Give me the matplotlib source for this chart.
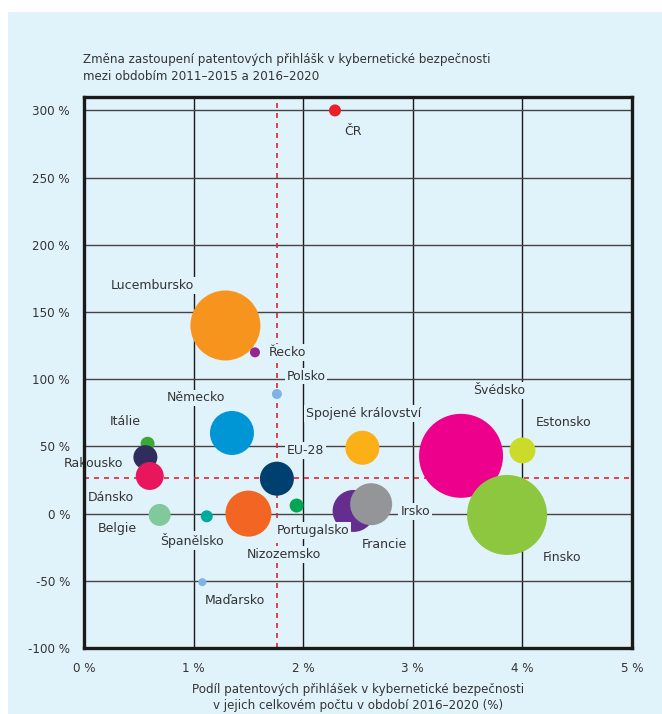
import matplotlib
matplotlib.use("Agg")
import matplotlib.pyplot as plt
from matplotlib.patches import Rectangle

# ---- data ----
countries = ["Lucembursko", "Řecko", "Polsko", "Německo", "Itálie", "Rakousko", "Dánsko",
             "Spojené království", "Švédsko", "Estonsko", "Finsko", "Belgie", "Španělsko",
             "Nizozemsko", "EU-28", "Portugalsko", "Francie", "Irsko", "Maďarsko", "ČR"]
share = [1.29, 1.56, 1.76, 1.35, 0.58, 0.56, 0.60,
         2.54, 3.44, 4.00, 3.86, 0.69, 1.12,
         1.50, 1.76, 1.94, 2.46, 2.62, 1.08, 2.29]
change = [140, 120, 89, 60, 52, 42, 28,
          49, 43, 47, -1, -1, -2,
          0, 26, 6, 2, 7, -51, 300]
bubble = [1225, 25, 25, 484, 49, 144, 196,
          289, 1764, 169, 1600, 121, 36,
          529, 289, 49, 441, 441, 16, 36]
colors = ["#F7941D", "#93278F", "#7FB2E5", "#0096D6", "#3AAA35", "#2E2D5E", "#E8175D",
          "#FBB017", "#EC008C", "#CBDB2A", "#8DC63F", "#80C99A", "#00A99D",
          "#F26522", "#004070", "#00A651", "#662D91", "#939598", "#7FB2E5", "#E8202A"]
eu_share = 1.76
eu_change = 26.4

xticks = [0, 1, 2, 3, 4, 5]
xtick_labels = ["0 %", "1 %", "2 %", "3 %", "4 %", "5 %"]
yticks = [-100, -50, 0, 50, 100, 150, 200, 250, 300]
ytick_labels = ["-100 %", "-50 %", "0 %", "50 %", "100 %", "150 %", "200 %", "250 %", "300 %"]

title = "Změna zastoupení patentových přihlášk v kybernetické bezpečnosti\nmezi obdobím 2011–2015 a 2016–2020"
xlabel = "Podíl patentových přihlášek v kybernetické bezpečnosti\nv jejich celkovém počtu v období 2016–2020 (%)"

# label offsets in pixels (dx, dy up) from bubble centre
label_off = {
    "ČR": (18, -21), "Lucembursko": (-73, 40), "Řecko": (32, 0), "Polsko": (29, 18),
    "Německo": (-36, 35), "Itálie": (-22, 22), "Rakousko": (-52, -6), "Dánsko": (-39, -22),
    "Belgie": (-42, -14), "Španělsko": (-15, -24), "Nizozemsko": (35, -41),
    "Portugalsko": (16, -25), "Francie": (31, -34), "Irsko": (44, -7), "Maďarsko": (33, -18),
    "EU-28": (29, 28), "Spojené království": (1, 34), "Švédsko": (38, 65),
    "Estonsko": (41, 28), "Finsko": (55, -43),
}

BG = "#E1F3FA"
TXT = "#333333"
plt.rcParams['font.family'] = ['DejaVu Sans']

fig = plt.figure(figsize=(6.62, 7.14), dpi=100)
fig.patch.set_facecolor("white")
fig.patches.append(Rectangle((8 / 662, 0), 1, 1 - 12 / 714, transform=fig.transFigure,
                             facecolor=BG, edgecolor="none", zorder=-10))

ax = fig.add_axes([84 / 662, 1 - 648 / 714, (632 - 84) / 662, (648 - 97) / 714])
ax.set_facecolor(BG)
ax.set_xlim(0, 5)
ax.set_ylim(-100, 310)

for x in xticks:
    ax.axvline(x, color="#1a1a1a", lw=1.0, zorder=1)
for y in yticks:
    ax.axhline(y, color="#444444", lw=1.0, zorder=1)

ax.axvline(eu_share, color="#E8202A", lw=1.2, ls=(0, (3, 3)), zorder=2)
ax.axhline(eu_change, color="#E8202A", lw=1.2, ls=(0, (3, 3)), zorder=2)

px2pt = 0.72
sizes = [(2 * (b ** 0.5) * px2pt) ** 2 for b in bubble]
ax.scatter(share, change, s=sizes, c=colors, edgecolors="none", zorder=3)

for i, name in enumerate(countries):
    dx, dy = label_off[name]
    ax.annotate(name, (share[i], change[i]), xytext=(dx * px2pt, dy * px2pt),
                textcoords="offset points", ha="center", va="center",
                fontsize=9.0, color=TXT, zorder=5,
                bbox=dict(boxstyle="square,pad=0.15", facecolor=BG, edgecolor="none"))

ax.set_xticks(xticks)
ax.set_xticklabels(xtick_labels)
ax.set_yticks(yticks)
ax.set_yticklabels(ytick_labels)
ax.tick_params(length=0, labelsize=8.6, labelcolor=TXT, pad=10)
for sp in ax.spines.values():
    sp.set_linewidth(2.4)
    sp.set_color("#1a1a1a")
    sp.set_zorder(6)

fig.text(83 / 662, 1 - 68 / 714, title, ha="left", va="center", fontsize=8.6,
         color=TXT, linespacing=1.3)
fig.text(358 / 662, 1 - 698 / 714, xlabel, ha="center", va="center", fontsize=8.6,
         color=TXT, linespacing=1.3)

fig.savefig("out.png", dpi=100, facecolor=fig.get_facecolor())
